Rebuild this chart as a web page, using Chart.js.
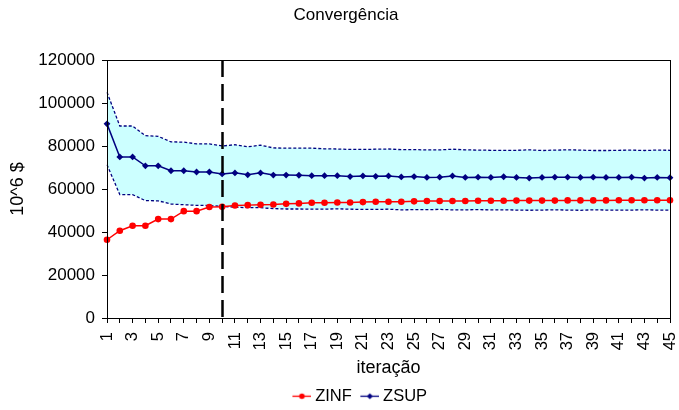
<!DOCTYPE html>
<html>
<head>
<meta charset="utf-8">
<script src="https://cdn.jsdelivr.net/npm/chart.js@4/dist/chart.umd.min.js"></script>
<style>
  html, body { margin: 0; padding: 0; background: #ffffff; }
  #wrap { width: 679px; height: 410px; }
</style>
</head>
<body>
<div id="wrap"><canvas id="grafico" width="679" height="410"></canvas></div>
<script>
// Iterações do algoritmo (eixo x)
const iteracoes = ['1','2','3','4','5','6','7','8','9','10','11','12','13','14','15',
  '16','17','18','19','20','21','22','23','24','25','26','27','28','29','30',
  '31','32','33','34','35','36','37','38','39','40','41','42','43','44','45'];

// Limite inferior (ZINF) e superior (ZSUP) do custo, em 10^6 $
const zinf = [36400, 40600, 42900, 42900, 46000, 46000, 49700, 49700, 51600, 51700,
  52300, 52500, 52700, 52800, 53100, 53300, 53600, 53600, 53750, 53750,
  53900, 54100, 54100, 54100, 54250, 54400, 54400, 54400, 54400, 54550,
  54550, 54550, 54600, 54600, 54600, 54600, 54700, 54700, 54700, 54700,
  54800, 54800, 54800, 54800, 54800];

const zsup = [90300, 74900, 74900, 70800, 70800, 68500, 68500, 67900, 67900, 67000,
  67500, 66600, 67500, 66500, 66500, 66400, 66200, 66200, 66200, 65800,
  66100, 65900, 66100, 65600, 65800, 65400, 65500, 66100, 65400, 65500,
  65400, 65700, 65400, 65100, 65400, 65500, 65500, 65400, 65500, 65400,
  65400, 65500, 65100, 65400, 65250];

// Faixa de confiança em torno de ZSUP
const faixaSup = [105000, 89300, 89300, 84800, 84500, 81900, 81800, 81000, 81000, 80000,
  80600, 79600, 80400, 79100, 79000, 79000, 79000, 78700, 78600, 78400,
  78400, 78500, 78600, 78300, 78300, 78200, 78200, 78500, 78200, 78100,
  78000, 78000, 78000, 78200, 77900, 78100, 78200, 78100, 77900, 77900,
  78000, 78100, 77900, 78100, 78000];

const faixaInf = [71300, 57400, 57400, 54600, 54500, 53000, 52700, 52400, 52300, 51900,
  51500, 51300, 51300, 50900, 50700, 50700, 50600, 50600, 50800, 50600,
  50500, 50500, 50600, 50300, 50400, 50400, 50500, 50300, 50300, 50400,
  50300, 50300, 50200, 50100, 50200, 50300, 50200, 50100, 50300, 50200,
  50200, 50200, 50300, 50200, 50200];

// Marcas do eixo y
const marcasY = [0, 20000, 40000, 60000, 80000, 100000, 120000];

// Iteração em que é traçada a linha vertical tracejada
const iteracaoCorte = '10';

const FONTE = "'Liberation Sans', Arial, Helvetica, sans-serif";
const AZUL = '#000080';
const VERMELHO = '#FF0000';
const CIANO = '#CCFFFF';

// Ícone da legenda: traço horizontal com o marcador ao centro
function iconeLegenda(cor, forma) {
  const c = document.createElement('canvas');
  c.width = 21; c.height = 9;
  const g = c.getContext('2d');
  g.strokeStyle = cor; g.fillStyle = cor; g.lineWidth = 1.3;
  g.beginPath(); g.moveTo(2, 4.5); g.lineTo(21, 4.5); g.stroke();
  const cx = 11.5, cy = 4.5;
  g.beginPath();
  if (forma === 'circle') {
    g.arc(cx, cy, 2.8, 0, Math.PI * 2);
  } else {
    g.moveTo(cx, cy - 3); g.lineTo(cx + 3, cy); g.lineTo(cx, cy + 3); g.lineTo(cx - 3, cy); g.closePath();
  }
  g.fill();
  return c;
}
const icones = [iconeLegenda(VERMELHO, 'circle'), iconeLegenda(AZUL, 'diamond')];

// Moldura da área de plotagem e linha vertical tracejada
const moldura = {
  id: 'moldura',
  afterLayout(chart) {
    const lg = chart.legend;
    if (lg) { lg.left += 15; lg.right += 15; lg.top += 4.5; lg.bottom += 4.5; }
  },
  afterDatasetsDraw(chart) {
    const { ctx, chartArea: a, scales: { x } } = chart;
    const px = Math.round(x.getPixelForValue(iteracoes.indexOf(iteracaoCorte))) + 0.5;
    ctx.save();
    ctx.strokeStyle = '#000000';
    ctx.lineWidth = 2.5;
    ctx.setLineDash([17, 7]);
    ctx.beginPath();
    ctx.moveTo(px, a.top);
    ctx.lineTo(px, a.bottom);
    ctx.stroke();
    ctx.restore();
  },
  afterDraw(chart) {
    const { ctx, chartArea: a } = chart;
    ctx.save();
    ctx.strokeStyle = '#000000';
    ctx.lineWidth = 1;
    ctx.strokeRect(Math.round(a.left) + 0.5, Math.round(a.top) + 0.5,
      Math.round(a.right - a.left), Math.round(a.bottom - a.top));
    ctx.restore();
  }
};

new Chart(document.getElementById('grafico'), {
  type: 'line',
  data: {
    labels: iteracoes,
    datasets: [
      {
        label: 'ZINF', data: zinf,
        borderColor: VERMELHO, backgroundColor: VERMELHO, borderWidth: 1.5,
        pointStyle: 'circle', pointRadius: 3.3, pointBorderWidth: 0,
        pointBackgroundColor: VERMELHO, fill: false, tension: 0
      },
      {
        label: 'ZSUP', data: zsup,
        borderColor: AZUL, backgroundColor: AZUL, borderWidth: 1.5,
        pointStyle: 'rectRot', pointRadius: 3.4, pointBorderWidth: 0,
        pointBackgroundColor: AZUL, fill: false, tension: 0
      },
      {
        label: 'Faixa superior', data: faixaSup,
        borderColor: AZUL, borderWidth: 1.3, borderDash: [3, 2],
        pointRadius: 0, fill: '+1', backgroundColor: CIANO, tension: 0
      },
      {
        label: 'Faixa inferior', data: faixaInf,
        borderColor: AZUL, borderWidth: 1.3, borderDash: [3, 2],
        pointRadius: 0, fill: false, tension: 0
      }
    ]
  },
  options: {
    responsive: false,
    animation: false,
    devicePixelRatio: 1,
    layout: { padding: { left: 13, right: 0, top: 0, bottom: 0 } },
    plugins: {
      filler: { drawTime: 'beforeDatasetsDraw' },
      tooltip: { enabled: false },
      title: {
        display: true, text: 'Convergência', color: '#000',
        font: { family: FONTE, size: 17, weight: 'normal' },
        padding: { top: 5, bottom: 34.6 }
      },
      legend: {
        display: true, position: 'bottom',
        labels: {
          usePointStyle: true, pointStyleWidth: 12, padding: 11,
          color: '#000', font: { family: FONTE, size: 16.5 },
          generateLabels(chart) {
            return chart.data.datasets.slice(0, 2).map((ds, i) => ({
              text: ds.label, pointStyle: icones[i], fontColor: '#000',
              fillStyle: 'rgba(0,0,0,0)', strokeStyle: 'rgba(0,0,0,0)',
              lineWidth: 0, hidden: false, datasetIndex: i
            }));
          }
        }
      }
    },
    scales: {
      x: {
        type: 'category',
        offset: false,
        grid: {
          display: true, drawOnChartArea: false, drawTicks: true,
          tickLength: 5, color: '#000', offset: false
        },
        border: { display: true, color: '#000', width: 1 },
        ticks: {
          autoSkip: false, minRotation: 90, maxRotation: 90, padding: 9,
          color: '#000', font: { family: FONTE, size: 16.5 },
          callback(v, i) { return i % 2 === 0 ? iteracoes[i] : ''; }
        },
        title: {
          display: true, text: 'iteração', color: '#000',
          font: { family: FONTE, size: 18, lineHeight: 1 },
          padding: { top: 0, bottom: -4.5 }
        },
        afterFit(s) { s.height = 54.5; s.paddingLeft = 0; s.paddingRight = 9; }
      },
      y: {
        min: 0, max: 120000,
        grid: {
          display: true, drawOnChartArea: false, drawTicks: true,
          tickLength: 5, color: '#000'
        },
        border: { display: true, color: '#000', width: 1 },
        afterBuildTicks(s) { s.ticks = marcasY.map(v => ({ value: v })); },
        ticks: {
          padding: 7, color: '#000', font: { family: FONTE, size: 17 },
          callback(v) { return String(v); }
        },
        title: {
          display: true, text: '10^6 $', color: '#000',
          font: { family: FONTE, size: 18, lineHeight: 1 },
          padding: { top: -4, bottom: 0 }
        },
        afterFit(s) { s.width = 94; }
      }
    }
  },
  plugins: [moldura]
});
</script>
</body>
</html>
